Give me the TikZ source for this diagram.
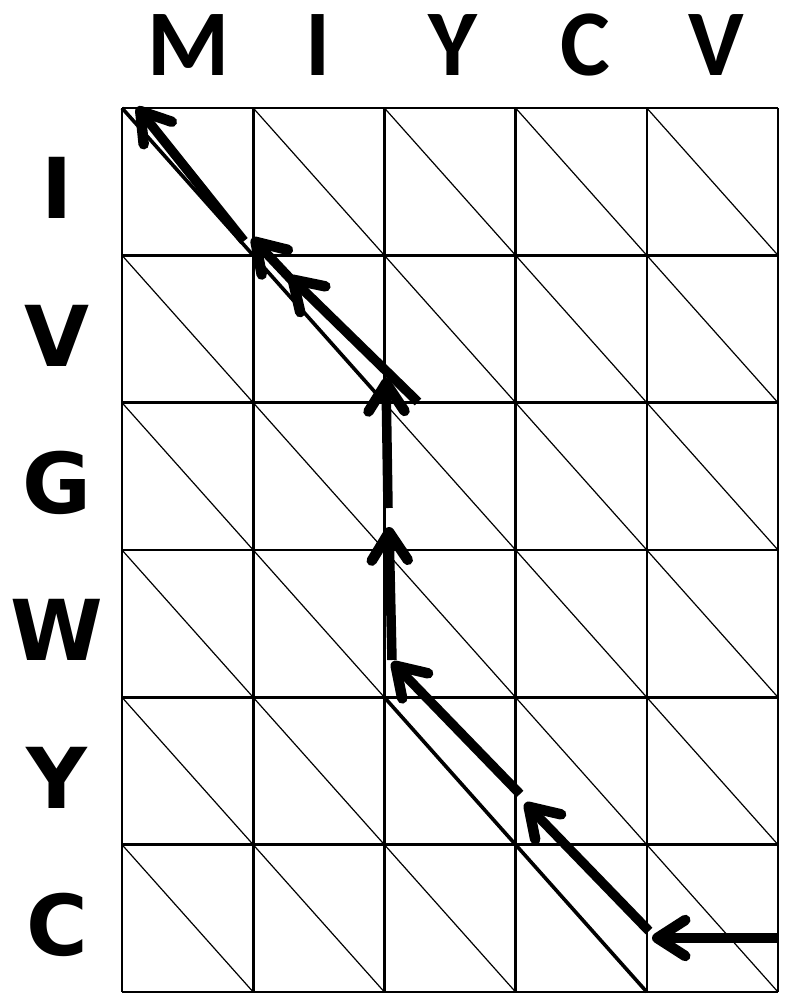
\documentclass[tikz,border=0pt]{standalone}
\usepackage{fontspec}
\usetikzlibrary{arrows.meta}
\newfontfamily\topfont{Carlito}
\newfontfamily\sidefont{DejaVu Sans}
\begin{document}
\begin{tikzpicture}[x=1pt,y=-1pt,
  gridline/.style={line width=2.6pt},
  celldiag/.style={line width=1.2pt},
  pathdiag/.style={line width=3.6pt},
  trace/.style={line width=9.5pt,-{Straight Barb[length=28pt,width=36pt,line width=10.5pt,round]}},
  toplab/.style={font=\topfont\bfseries\fontsize{94}{94}\selectfont,anchor=base,inner sep=0pt},
  sidelab/.style={font=\sidefont\bfseries\fontsize{84}{84}\selectfont,anchor=base,inner sep=0pt}]
\useasboundingbox (0,0) rectangle (789,994);
\def\cw{131.2}
\def\rh{147.333}
% cell diagonals
\foreach \i in {0,...,4}{
  \foreach \j in {0,...,5}{
    \draw[celldiag] ({122+\i*\cw},{108+\j*\rh}) -- ({122+(\i+1)*\cw},{108+(\j+1)*\rh});
  }
}
% grid
\foreach \i in {0,...,5}{
  \draw[gridline] ({122+\i*\cw},108) -- ({122+\i*\cw},992);
}
\foreach \j in {0,...,6}{
  \draw[gridline] (122,{108+\j*\rh}) -- (778,{108+\j*\rh});
}
% alignment path diagonals
\coordinate (p00) at (122,108);
\coordinate (p22) at ({122+2*\cw},{108+2*\rh});
\coordinate (p24) at ({122+2*\cw},{108+4*\rh});
\coordinate (p46) at ({122+4*\cw},{108+6*\rh});
\draw[pathdiag] (p00) -- (p22);
\draw[pathdiag] (p24) -- (p46);
% traceback arrows
\coordinate (a1s) at (778,938);
\coordinate (a1e) at (652,938);
\coordinate (a2s) at (649,931);
\coordinate (a2e) at (525,803);
\coordinate (a3s) at (520,794);
\coordinate (a3e) at (392,662);
\coordinate (a4s) at (392,660);
\coordinate (a4e) at (389,527);
\coordinate (a5s) at (388,508);
\coordinate (a5e) at (386,378);
\coordinate (a6s) at (418,402);
\coordinate (a6e) at (289,276);
\coordinate (a7s) at (300,289);
\coordinate (a7e) at (252,238);
\coordinate (a8s) at (244,241);
\coordinate (a8e) at (137,107);
\draw[trace] (a1s) -- (a1e);
\draw[trace] (a2s) -- (a2e);
\draw[trace] (a3s) -- (a3e);
\draw[trace] (a4s) -- (a4e);
\draw[trace] (a5s) -- (a5e);
\draw[trace] (a6s) -- (a6e);
\draw[trace] (a7s) -- (a7e);
\draw[trace] (a8s) -- (a8e);
% top labels
\node[toplab] (tM) at (189,75) {M};
\node[toplab] (tI) at (318,75) {I};
\node[toplab] (tY) at (453,75) {Y};
\node[toplab] (tC) at (585,75) {C};
\node[toplab] (tV) at (716,75) {V};
% side labels
\node[sidelab] (sI) at (57,{108+0.5*\rh+37}) {I};
\node[sidelab] (sV) at (57,{108+1.5*\rh+37}) {V};
\node[sidelab] (sG) at (57,{108+2.5*\rh+37}) {G};
\node[sidelab] (sW) at (57,{108+3.5*\rh+37}) {W};
\node[sidelab] (sY) at (57,{108+4.5*\rh+37}) {Y};
\node[sidelab] (sC) at (57,{108+5.5*\rh+37}) {C};
\end{tikzpicture}
\end{document}
